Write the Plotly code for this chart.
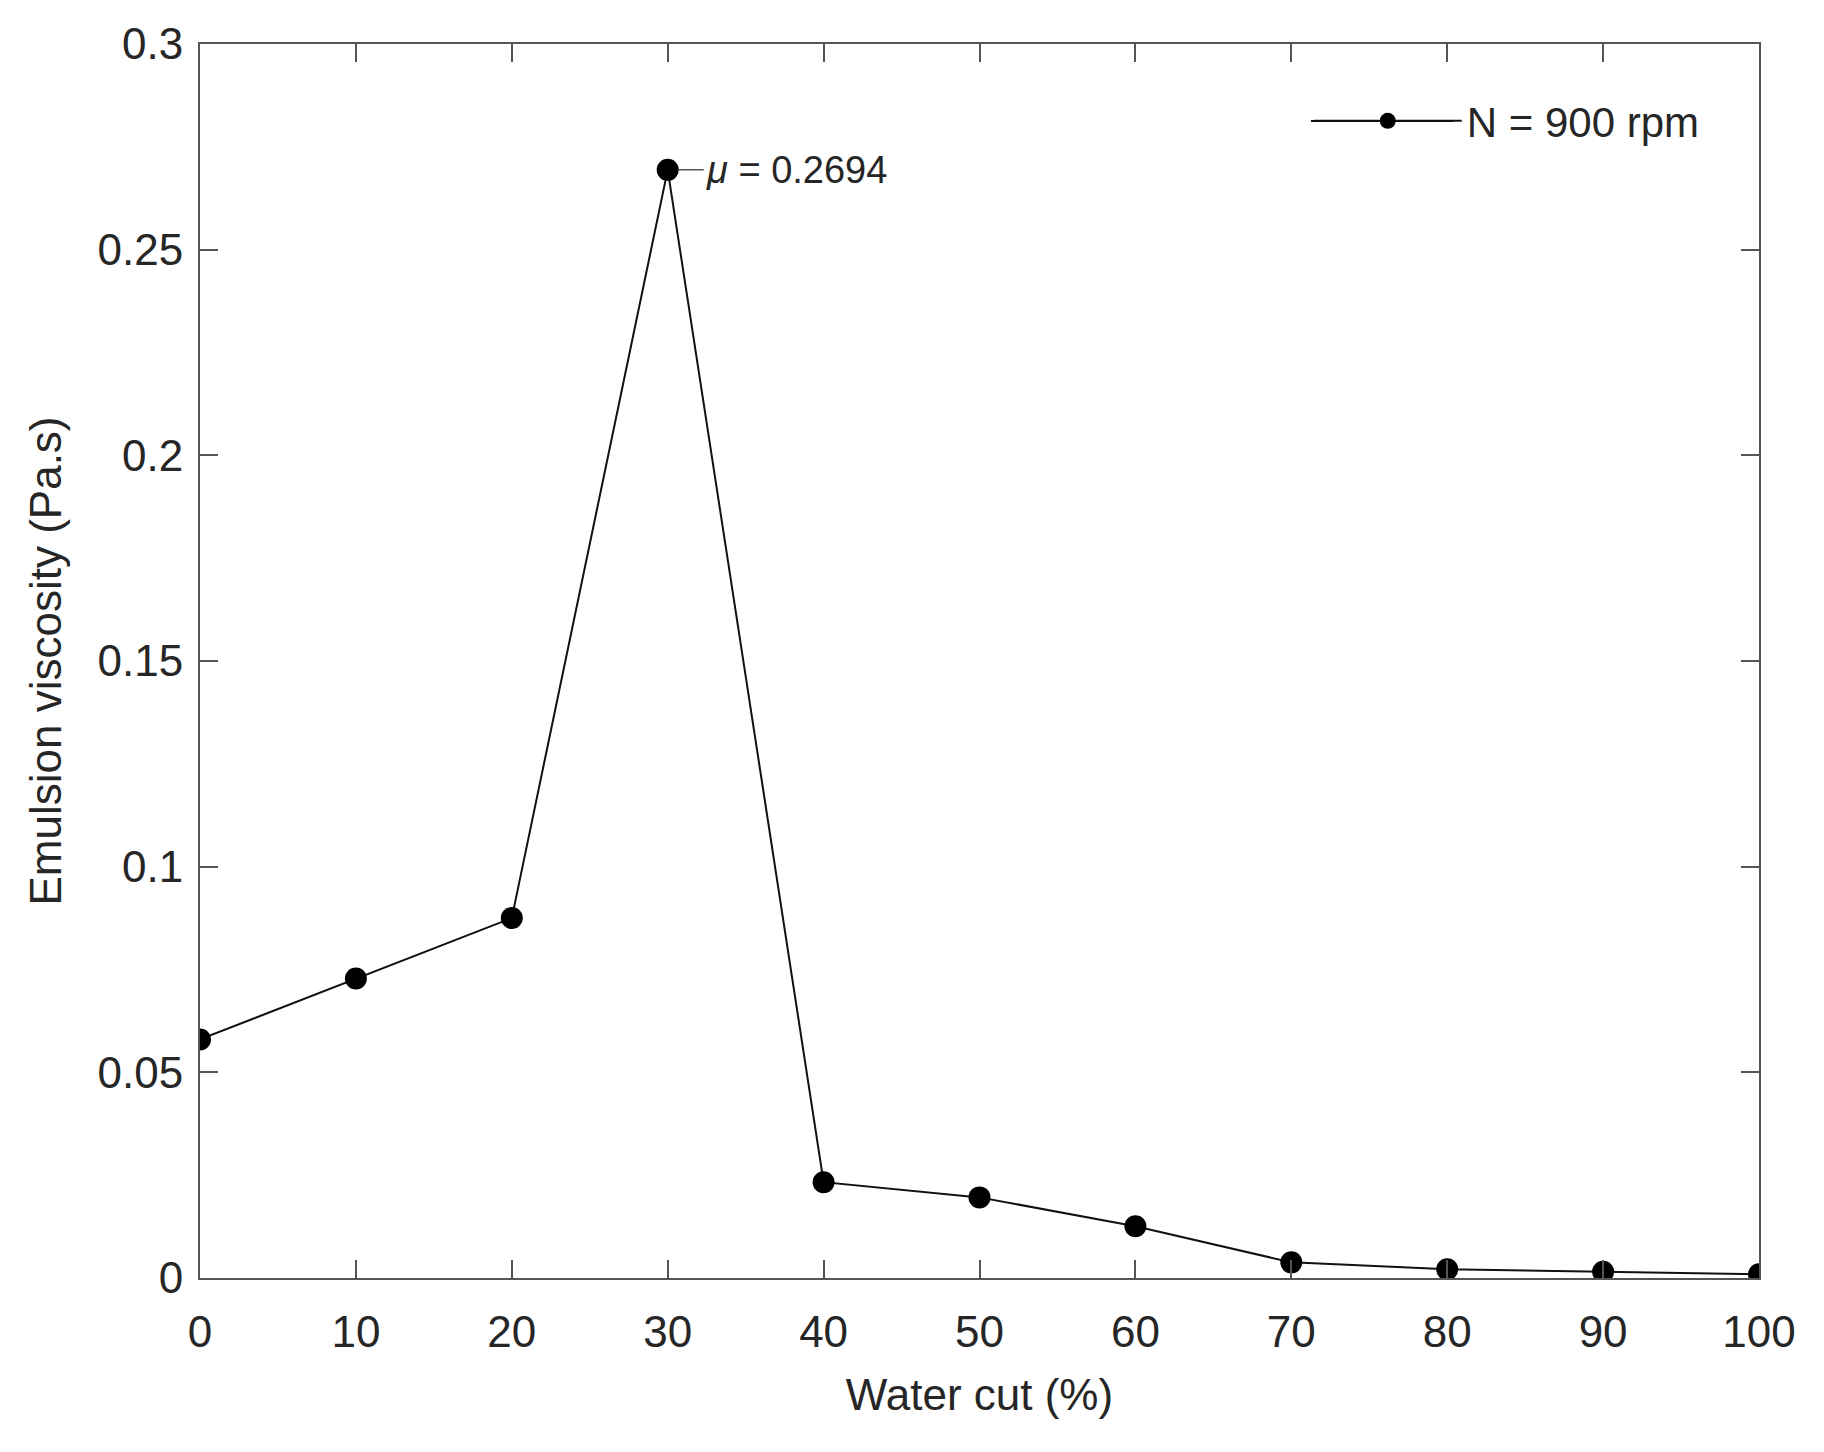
import plotly.graph_objects as go

water_cut = [0, 10, 20, 30, 40, 50, 60, 70, 80, 90, 100]
viscosity = [0.058, 0.0728, 0.0875, 0.2694, 0.0233, 0.0196, 0.0126, 0.0038, 0.0021, 0.0015, 0.0009]
series_name = "N = 900 rpm"
x_ticks = [0, 10, 20, 30, 40, 50, 60, 70, 80, 90, 100]
y_ticks = [0, 0.05, 0.1, 0.15, 0.2, 0.25, 0.3]
y_tick_labels = ["0", "0.05", "0.1", "0.15", "0.2", "0.25", "0.3"]
peak_label = "<i>μ</i> = 0.2694"

FONT = "Liberation Sans, Arial, sans-serif"
TXT = "#262626"
AX = "#555555"
LINE = "#111111"

fig = go.Figure()
fig.add_trace(go.Scatter(
    x=water_cut, y=viscosity, mode="lines+markers", name=series_name,
    line=dict(color=LINE, width=2),
    marker=dict(color="black", size=22),
))

pk = viscosity.index(max(viscosity))
fig.add_annotation(
    x=water_cut[pk], y=viscosity[pk], text=peak_label,
    showarrow=True, arrowhead=0, arrowwidth=1.5, arrowcolor="#555555",
    ax=36, ay=0, xanchor="left", standoff=10,
    font=dict(family=FONT, size=38, color=TXT),
)

axis_common = dict(
    showline=True, linecolor=AX, linewidth=2, mirror="ticks",
    ticks="inside", ticklen=18, tickwidth=2, tickcolor=AX,
    showgrid=False, zeroline=False,
    tickfont=dict(family=FONT, size=44, color=TXT),
)

fig.update_xaxes(
    range=[0, 100], tickvals=x_ticks, ticktext=[str(v) for v in x_ticks],
    ticklabelstandoff=14,
    title=dict(text="Water cut (%)", font=dict(family=FONT, size=44, color=TXT), standoff=24),
    **axis_common,
)
fig.update_yaxes(
    range=[0, 0.3], tickvals=y_ticks, ticktext=y_tick_labels,
    ticklabelstandoff=6,
    title=dict(text="Emulsion viscosity (Pa.s)", font=dict(family=FONT, size=44, color=TXT), standoff=22),
    **axis_common,
)

# extend the legend sample line to the reference's long sample
fig.add_shape(type="line", xref="paper", yref="paper",
              x0=0.7126, x1=0.8037, y0=0.9376, y1=0.9376,
              line=dict(color=LINE, width=2), layer="above")

fig.update_layout(
    width=1824, height=1452,
    margin=dict(l=200, r=65, t=44, b=174),
    plot_bgcolor="white", paper_bgcolor="white",
    showlegend=True,
    legend=dict(
        x=0.7112, y=0.9376, xanchor="left", yanchor="middle",
        bgcolor="rgba(255,255,255,0)", borderwidth=0,
        font=dict(family=FONT, size=42, color=TXT),
        itemwidth=148,
    ),
)

fig.write_html("out.html")
